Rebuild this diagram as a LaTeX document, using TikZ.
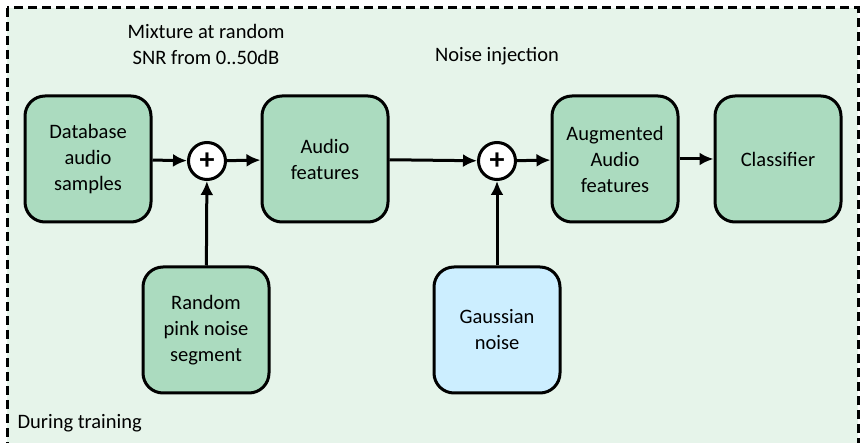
\documentclass[tikz,border=0pt]{standalone}
\usepackage{fontspec}
\setmainfont{Carlito}
\usepackage{tikz}
\usetikzlibrary{arrows.meta}
\definecolor{bggreen}{HTML}{E6F4EA}
\definecolor{boxgreen}{HTML}{ABDBBF}
\definecolor{boxblue}{HTML}{CCEEFF}

\begin{document}
\begin{tikzpicture}[x=1pt,y=-1pt]
\tikzset{block/.style = {shape=rectangle,draw,rounded corners=20pt,line width=3pt,fill=boxgreen,minimum width=126pt,minimum height=126pt,align=center,font=\fontsize{20.5}{26}\selectfont}}
\tikzset{adder/.style = {shape=circle,draw,line width=3pt,fill=white,minimum size=37pt,inner sep=0pt,font=\fontsize{30}{30}\selectfont\bfseries}}
\tikzset{label/.style = {align=center,font=\fontsize{20.5}{26}\selectfont}}
\tikzset{edge/.style = {-{Latex[length=14pt,width=13pt]},line width=3pt}}
\useasboundingbox (0,0) rectangle (862,443);
\draw[fill=bggreen,line width=3pt,dash pattern=on 9pt off 5pt] (7,8) rectangle (858,460);

\node[block] (db) at  (88,159) {Database\\audio\\samples};
\node[adder] (mix) at  (207,161) {+};
\node[block] (feat) at  (325,159) {Audio\\features};
\node[block] (pink) at  (206,330) {Random\\pink noise\\segment};
\node[adder] (inj) at  (497,161) {+};
\node[block,fill=boxblue] (gauss) at  (497,330) {Gaussian\\noise};
\node[block] (aug) at  (615,159) {Augmented\\Audio\\features};
\node[block] (cls) at  (778,159) {Classifier};

\node[label] (mixtxt) at  (206,44) {Mixture at random\\SNR from 0..50dB};
\node[label] (injtxt) at  (497,56) {Noise injection};
\node[label,anchor=west] (train) at  (14,423) {During training};

\draw[edge] (db) to   (mix);
\draw[edge] (pink) to   (mix);
\draw[edge] (mix) to   (feat);
\draw[edge] (feat) to   (inj);
\draw[edge] (gauss) to   (inj);
\draw[edge] (inj) to   (aug);
\draw[edge] (aug) to   (cls);
\end{tikzpicture}
\end{document}
